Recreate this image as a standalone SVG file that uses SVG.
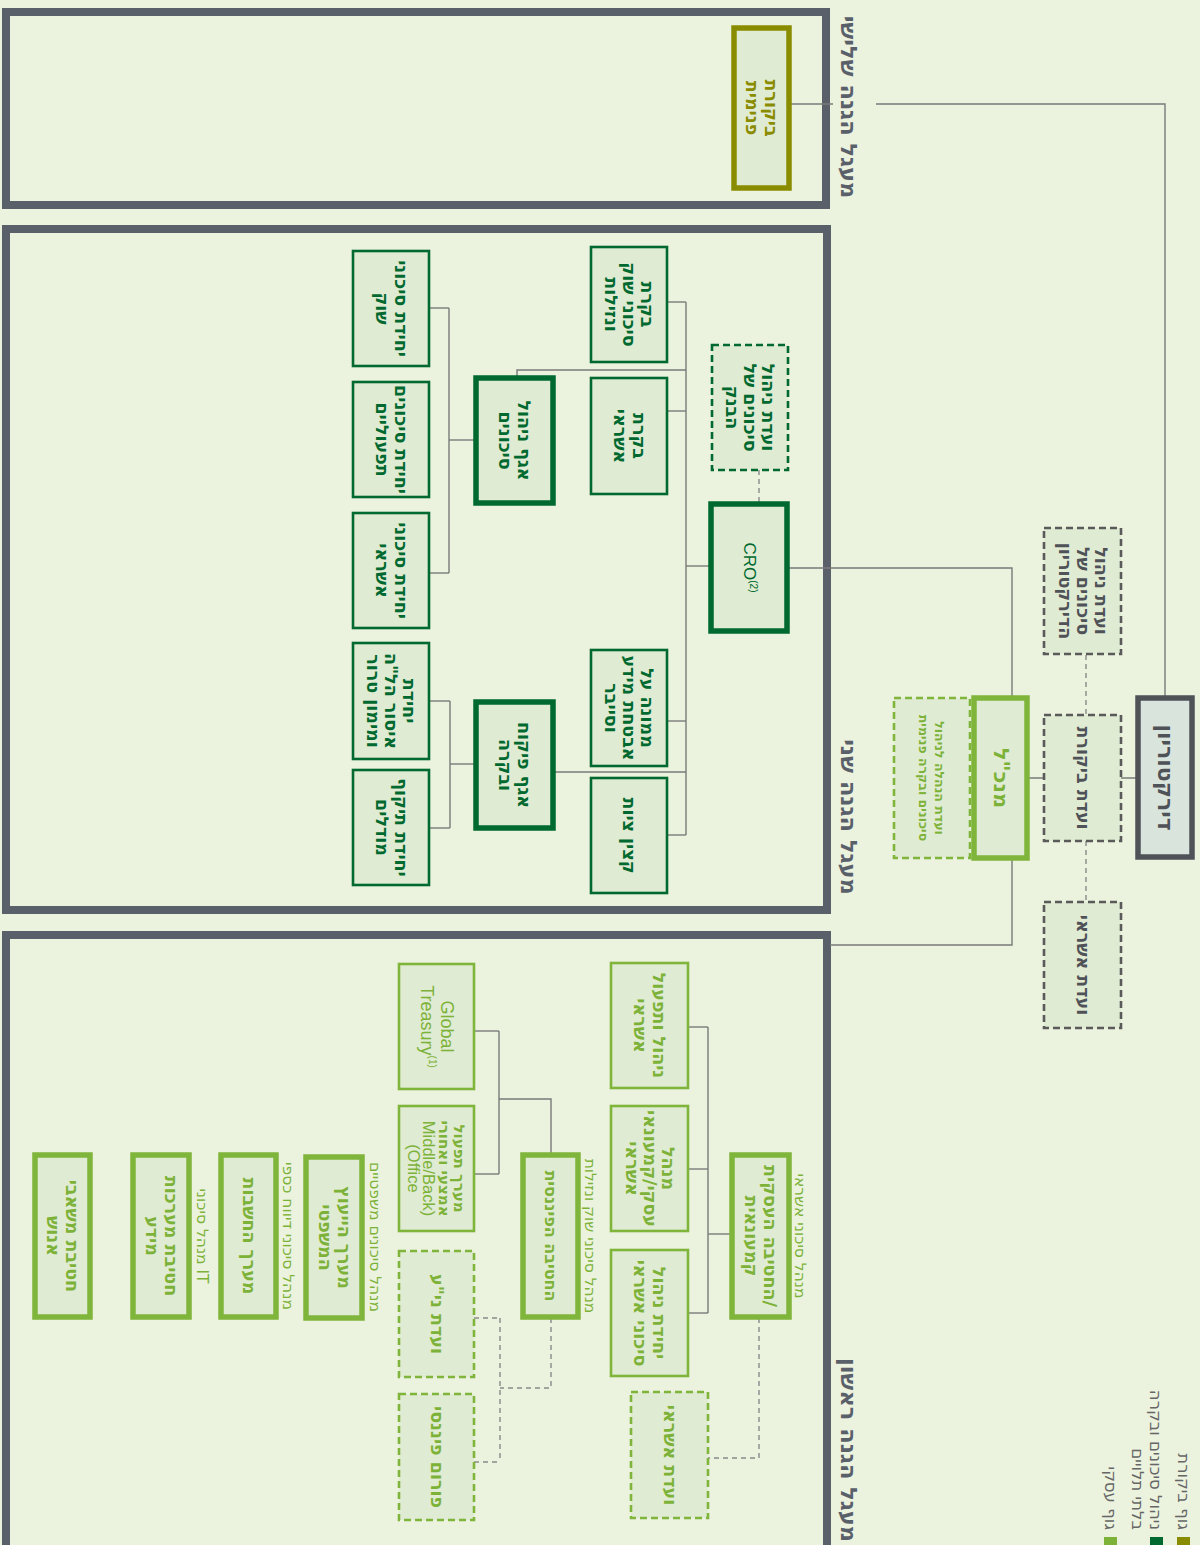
<svg xmlns="http://www.w3.org/2000/svg" width="1200" height="1545" viewBox="0 0 1200 1545">
<style>
.sec{fill:none;stroke:#59606a;stroke-width:8}
.box{fill:#dfebd2}
.dg{stroke:#00692f}
.lg{stroke:#80b53c}
.ol{stroke:#8a8c00}
.gy{stroke:#4f5257}
.gd{stroke:#5a5a5a}
.k{stroke-width:5.5}
.n{stroke-width:2.6}
.d{stroke-width:2.6;stroke-dasharray:7 4}
.c{fill:none;stroke:#7a7a7a;stroke-width:1.4}
.cd{fill:none;stroke:#8a8a8a;stroke-width:1.4;stroke-dasharray:5 4}
text{font-family:"DejaVu Sans","Liberation Sans",sans-serif;text-anchor:middle;dominant-baseline:central}
.t{font-size:17.5px;font-weight:bold}
.en{font-family:"Liberation Sans","Open Sans",sans-serif;font-weight:normal}
.tdg{fill:#00692f}
.tlg{fill:#7db239}
.tol{fill:#8a8c00}
.tgy{fill:#4f5257}
.lab{font-size:15.5px;fill:#7db239}
.hdr{font-size:22.5px;font-weight:bold;fill:#59606a}
.leg{font-size:16.5px;fill:#666;text-anchor:end}
</style>
<rect x="0" y="0" width="1200" height="1545" fill="#ebf2de"/>
<g id="sections">
<rect class="sec" x="6" y="12" width="820" height="193"/>
<rect class="sec" x="6" y="229" width="821" height="681"/>
<rect class="sec" x="6" y="935" width="821" height="640"/>
<text class="hdr" transform="translate(849 107) rotate(90)">מעגל הגנה שלישי</text>
<text class="hdr" transform="translate(849 817) rotate(90)">מעגל הגנה שני</text>
<text class="hdr" transform="translate(849 1450) rotate(90)">מעגל הגנה ראשון</text>
</g>
<g id="connectors">
<polyline class="c" points="1165,697 1165,104 876,104"/>
<line class="c" x1="833" y1="104" x2="790" y2="104"/>
<line class="c" x1="1137" y1="778" x2="1027" y2="778"/>
<line class="cd" x1="1086" y1="655" x2="1086" y2="715"/>
<line class="cd" x1="1086" y1="841" x2="1086" y2="902"/>
<polyline class="c" points="1012,698 1012,568 787,568"/>
<polyline class="c" points="1012,858 1012,945 830,945"/>
<line class="cd" x1="759" y1="470" x2="759" y2="504"/>
<line class="c" x1="711" y1="566" x2="686" y2="566"/>
<line class="c" x1="686" y1="302" x2="686" y2="835"/>
<line class="c" x1="667" y1="302" x2="686" y2="302"/>
<line class="c" x1="667" y1="411" x2="686" y2="411"/>
<polyline class="c" points="686,370 517,370 517,378"/>
<line class="c" x1="667" y1="721" x2="686" y2="721"/>
<line class="c" x1="667" y1="835" x2="686" y2="835"/>
<line class="c" x1="553" y1="772" x2="686" y2="772"/>
<line class="c" x1="476" y1="440" x2="449" y2="440"/>
<line class="c" x1="449" y1="308" x2="449" y2="573"/>
<line class="c" x1="429" y1="308" x2="449" y2="308"/>
<line class="c" x1="429" y1="573" x2="449" y2="573"/>
<line class="c" x1="476" y1="764" x2="450" y2="764"/>
<line class="c" x1="450" y1="701" x2="450" y2="828"/>
<line class="c" x1="429" y1="701" x2="450" y2="701"/>
<line class="c" x1="429" y1="828" x2="450" y2="828"/>
<line class="c" x1="732" y1="1234" x2="708" y2="1234"/>
<line class="c" x1="708" y1="1027" x2="708" y2="1313"/>
<line class="c" x1="688" y1="1027" x2="708" y2="1027"/>
<line class="c" x1="688" y1="1169" x2="708" y2="1169"/>
<line class="c" x1="688" y1="1313" x2="708" y2="1313"/>
<polyline class="cd" points="759,1318 759,1458 708,1458"/>
<polyline class="c" points="551,1155 551,1099 499,1099"/>
<line class="c" x1="499" y1="1031" x2="499" y2="1174"/>
<line class="c" x1="474" y1="1031" x2="499" y2="1031"/>
<line class="c" x1="474" y1="1174" x2="499" y2="1174"/>
<polyline class="cd" points="551,1318 551,1388 500,1388"/>
<line class="cd" x1="500" y1="1318" x2="500" y2="1462"/>
<line class="cd" x1="474" y1="1318" x2="500" y2="1318"/>
<line class="cd" x1="474" y1="1462" x2="500" y2="1462"/>
</g>
<g id="audit"><rect class="box ol k" x="734" y="28" width="55" height="160"/>
<text class="t tol" transform="translate(761.5 108) rotate(90)"><tspan x="0" y="-9.5">ביקורת</tspan><tspan x="0" y="9.5">פנימית</tspan></text></g>
<g id="board"><rect fill="#d9e5dc" class="gy k" x="1138" y="698" width="54" height="159"/>
<text class="t tgy" style="font-size:22px" transform="translate(1165 777.5) rotate(90)">דירקטוריון</text></g>
<g id="board-risk-committee"><rect class="box gd d" x="1044" y="528" width="77" height="126"/>
<text class="t tgy" transform="translate(1082.5 591) rotate(90)"><tspan x="0" y="-18">ועדת ניהול</tspan><tspan x="0" y="0">סיכונים של</tspan><tspan x="0" y="18">הדירקטוריון</tspan></text></g>
<g id="audit-committee"><rect class="box gd d" x="1044" y="715" width="77" height="126"/>
<text class="t tgy" transform="translate(1082.5 778) rotate(90)">ועדת ביקורת</text></g>
<g id="credit-committee-board"><rect class="box gd d" x="1044" y="902" width="77" height="126"/>
<text class="t tgy" transform="translate(1082.5 965) rotate(90)">ועדת אשראי</text></g>
<g id="ceo"><rect class="box lg k" x="974" y="698" width="53" height="160"/>
<text class="t tlg" style="font-size:21px" transform="translate(1000.5 778) rotate(90)">מנכ"ל</text></g>
<g id="mgmt-risk-committee"><rect class="box lg d" x="894" y="698" width="76" height="160"/>
<text class="t tlg" style="font-size:12.5px" transform="translate(932 778) rotate(90)"><tspan x="0" y="-8">ועדת הנהלה לניהול</tspan><tspan x="0" y="8">סיכונים ובקרה פנימית</tspan></text></g>
<g id="cro"><rect class="box dg k" x="711" y="504" width="76" height="127"/>
<text class="tdg en" style="font-size:17px" transform="translate(749 567.5) rotate(90)">CRO<tspan style="font-size:10px" dy="-5">(2)</tspan></text></g>
<g id="bank-risk-committee"><rect class="box dg d" x="712" y="345" width="76" height="125"/>
<text class="t tdg" transform="translate(750 407.5) rotate(90)"><tspan x="0" y="-18">ועדת ניהול</tspan><tspan x="0" y="0">סיכונים של</tspan><tspan x="0" y="18">הבנק</tspan></text></g>
<g id="market-risk"><rect class="box dg n" x="591" y="247" width="76" height="115"/>
<text class="t tdg" transform="translate(629 304.5) rotate(90)"><tspan x="0" y="-18">בקרת</tspan><tspan x="0" y="0">סיכוני שוק</tspan><tspan x="0" y="18">ונזילות</tspan></text></g>
<g id="credit-control"><rect class="box dg n" x="591" y="378" width="76" height="116"/>
<text class="t tdg" transform="translate(629 436) rotate(90)"><tspan x="0" y="-9.5">בקרת</tspan><tspan x="0" y="9.5">אשראי</tspan></text></g>
<g id="info-security"><rect class="box dg n" x="591" y="650" width="76" height="116"/>
<text class="t tdg" transform="translate(629 708) rotate(90)"><tspan x="0" y="-18">ממונה על</tspan><tspan x="0" y="0">אבטחת מידע</tspan><tspan x="0" y="18">וסייבר</tspan></text></g>
<g id="compliance"><rect class="box dg n" x="591" y="778" width="76" height="115"/>
<text class="t tdg" transform="translate(629 835.5) rotate(90)">קצין ציות</text></g>
<g id="risk-dept"><rect class="box dg k" x="476" y="378" width="77" height="125"/>
<text class="t tdg" transform="translate(514.5 440.5) rotate(90)"><tspan x="0" y="-9.5">אגף ניהול</tspan><tspan x="0" y="9.5">סיכונים</tspan></text></g>
<g id="control-dept"><rect class="box dg k" x="476" y="702" width="77" height="126"/>
<text class="t tdg" transform="translate(514.5 765) rotate(90)"><tspan x="0" y="-9.5">אגף פיקוח</tspan><tspan x="0" y="9.5">ובקרה</tspan></text></g>
<g id="unit-market"><rect class="box dg n" x="353" y="251" width="76" height="115"/>
<text class="t tdg" transform="translate(391 308.5) rotate(90)"><tspan x="0" y="-9.5">יחידת סיכוני</tspan><tspan x="0" y="9.5">שוק</tspan></text></g>
<g id="unit-operational"><rect class="box dg n" x="353" y="382" width="76" height="115"/>
<text class="t tdg" transform="translate(391 439.5) rotate(90)"><tspan x="0" y="-9.5">יחידת סיכונים</tspan><tspan x="0" y="9.5">תפעוליים</tspan></text></g>
<g id="unit-credit"><rect class="box dg n" x="353" y="513" width="76" height="115"/>
<text class="t tdg" transform="translate(391 570.5) rotate(90)"><tspan x="0" y="-9.5">יחידת סיכוני</tspan><tspan x="0" y="9.5">אשראי</tspan></text></g>
<g id="unit-aml"><rect class="box dg n" x="353" y="643" width="76" height="116"/>
<text class="t tdg" transform="translate(391 701) rotate(90)"><tspan x="0" y="-18">יחידת</tspan><tspan x="0" y="0">איסור הל"ה</tspan><tspan x="0" y="18">ומימון טרור</tspan></text></g>
<g id="unit-models"><rect class="box dg n" x="353" y="770" width="76" height="115"/>
<text class="t tdg" transform="translate(391 827.5) rotate(90)"><tspan x="0" y="-9.5">יחידת תיקוף</tspan><tspan x="0" y="9.5">מודלים</tspan></text></g>
<g id="retail-division"><rect class="box lg k" x="732" y="1155" width="57" height="162"/>
<text class="t tlg" transform="translate(760.5 1236) rotate(90)"><tspan x="0" y="-9.5">החטיבה העסקית/</tspan><tspan x="0" y="9.5">קמעונאית</tspan></text>
<text class="lab" transform="translate(800 1236) rotate(90)">מנהל סיכוני אשראי</text></g>
<g id="credit-ops"><rect class="box lg n" x="611" y="963" width="77" height="125"/>
<text class="t tlg" transform="translate(649.5 1025.5) rotate(90)"><tspan x="0" y="-9.5">ניהול ותפעול</tspan><tspan x="0" y="9.5">אשראי</tspan></text></g>
<g id="credit-mgmt"><rect class="box lg n" x="611" y="1106" width="77" height="125"/>
<text class="t tlg" transform="translate(649.5 1168.5) rotate(90)"><tspan x="0" y="-18">מנהל</tspan><tspan x="0" y="0">עסקי/קמעונאי</tspan><tspan x="0" y="18">אשראי</tspan></text></g>
<g id="credit-risk-unit"><rect class="box lg n" x="611" y="1250" width="77" height="126"/>
<text class="t tlg" transform="translate(649.5 1313) rotate(90)"><tspan x="0" y="-9.5">יחידת ניהול</tspan><tspan x="0" y="9.5">סיכוני אשראי</tspan></text></g>
<g id="credit-committee"><rect class="box lg d" x="631" y="1392" width="77" height="126"/>
<text class="t tlg" transform="translate(669.5 1455) rotate(90)">ועדת אשראי</text></g>
<g id="financial-division"><rect class="box lg k" x="523" y="1155" width="55" height="162"/>
<text class="t tlg" style="font-size:16px" transform="translate(550.5 1236) rotate(90)">החטיבה הפיננסית</text>
<text class="lab" transform="translate(590 1236) rotate(90)">מנהל סיכוני שוק ונזילות</text></g>
<g id="global-treasury"><rect class="box lg n" x="399" y="964" width="75" height="125"/>
<text class="tlg en" style="font-size:18px" transform="translate(436.5 1026.5) rotate(90)"><tspan x="0" y="-10">Global</tspan><tspan x="0" y="10">Treasury<tspan style="font-size:10px" dy="-6">(1)</tspan></tspan></text></g>
<g id="middle-back-office"><rect class="box lg n" x="399" y="1106" width="75" height="125"/>
<text class="t tlg" style="font-size:15px" transform="translate(436.5 1168.5) rotate(90)"><tspan x="0" y="-22.5">מערך תפעול</tspan><tspan x="0" y="-7.5">אמצעי ואחורי</tspan><tspan x="0" y="7.5" class="en" style="font-size:16.5px">Middle/Back)</tspan><tspan x="0" y="22.5" class="en" style="font-size:16.5px">(Office</tspan></text></g>
<g id="securities-committee"><rect class="box lg d" x="399" y="1251" width="75" height="126"/>
<text class="t tlg" transform="translate(436.5 1314) rotate(90)">ועדת ני"ע</text></g>
<g id="financial-forum"><rect class="box lg d" x="399" y="1394" width="75" height="126"/>
<text class="t tlg" transform="translate(436.5 1457) rotate(90)">פורום פיננסי</text></g>
<g id="legal"><rect class="box lg k" x="306" y="1157" width="56" height="161"/>
<text class="t tlg" transform="translate(334 1237.5) rotate(90)"><tspan x="0" y="-9.5">מערך הייעוץ</tspan><tspan x="0" y="9.5">המשפטי</tspan></text>
<text class="lab" transform="translate(375 1237) rotate(90)">מנהל סיכונים משפטיים</text></g>
<g id="accounting"><rect class="box lg k" x="221" y="1155" width="55" height="162"/>
<text class="t tlg" transform="translate(248.5 1236) rotate(90)">מערך החשבות</text>
<text class="lab" transform="translate(288 1236) rotate(90)">מנהל סיכוני דיווח כספי</text></g>
<g id="it-division"><rect class="box lg k" x="133" y="1155" width="56" height="162"/>
<text class="t tlg" transform="translate(161 1236) rotate(90)"><tspan x="0" y="-9.5">חטיבת מערכות</tspan><tspan x="0" y="9.5">מידע</tspan></text>
<text class="lab" transform="translate(202 1236) rotate(90)">מנהל סיכוני IT</text></g>
<g id="hr-division"><rect class="box lg k" x="35" y="1155" width="55" height="162"/>
<text class="t tlg" transform="translate(62.5 1236) rotate(90)"><tspan x="0" y="-9.5">חטיבת משאבי</tspan><tspan x="0" y="9.5">אנוש</tspan></text></g>
<g id="legend">
<rect x="1177" y="1537" width="13" height="10" fill="#8a8c00"/>
<rect x="1150" y="1537" width="13" height="10" fill="#00692f"/>
<rect x="1104" y="1537" width="13" height="10" fill="#7db239"/>
<text class="leg" transform="translate(1183 1530) rotate(90)">גוף ביקורת</text>
<text class="leg" transform="translate(1155 1530) rotate(90)">ניהול סיכונים ובקרה</text>
<text class="leg" transform="translate(1137 1530) rotate(90)">בלתי תלויים</text>
<text class="leg" transform="translate(1110 1530) rotate(90)">גוף עסקי</text>
</g>
</svg>
